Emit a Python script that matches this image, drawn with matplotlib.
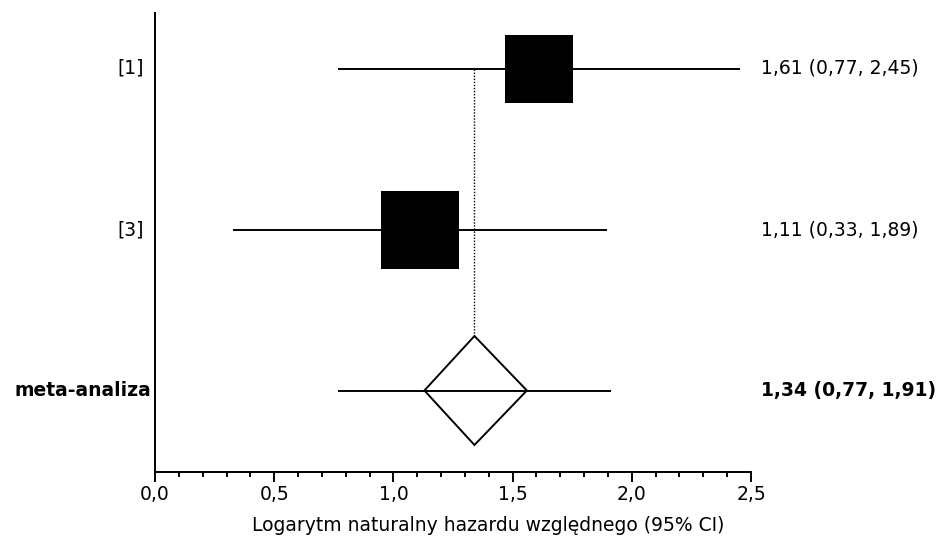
import matplotlib
matplotlib.use("Agg")
import matplotlib.pyplot as plt
from matplotlib.patches import Polygon
from matplotlib.ticker import MultipleLocator, FuncFormatter

# dane badań
etykiety = ["[1]", "[3]"]
efekt = [1.61, 1.11]
ci_dol = [0.77, 0.33]
ci_gora = [2.45, 1.89]
bok_kwadratu = [49.3, 56.2]   # wielkość kwadratu (waga badania), pt
pozycja_y = [4.03, 2.415]

# meta-analiza
meta_etykieta = "meta-analiza"
meta_efekt = 1.34
meta_ci = (0.77, 1.91)
meta_romb = (1.13, 1.56)
meta_y = 0.81
meta_pol_wys = 0.545

fig = plt.figure(figsize=(9.41, 5.37), dpi=100)
ax = fig.add_axes([155 / 941, 65.5 / 537, 596 / 941, 458.5 / 537])
ax.set_xlim(0, 2.5)
ax.set_ylim(0, 4.585)

fs = 13.5
lw = 1.4
for lab, e, lo, hi, s, y in zip(etykiety, efekt, ci_dol, ci_gora, bok_kwadratu, pozycja_y):
    ax.plot([lo, hi], [y, y], color="black", lw=lw, zorder=2)
    ax.plot([e], [y], marker="s", ms=s, color="black", mec="black", mew=0, zorder=3)
    ax.annotate(lab, (0, y), xytext=(-11 * 0.72, 0), textcoords="offset points",
                ha="right", va="center", fontsize=fs, annotation_clip=False)
    ax.annotate(f"{e:.2f} ({lo:.2f}, {hi:.2f})".replace(".", ","), (2.5, y),
                xytext=(10 * 0.72, 0), textcoords="offset points",
                ha="left", va="center", fontsize=fs, annotation_clip=False)

# linia pionowa przez efekt zbiorczy
ax.plot([meta_efekt, meta_efekt], [pozycja_y[0], meta_y + meta_pol_wys],
        color="black", lw=1.0, ls=(0, (1, 1.2)), zorder=1)

romb = Polygon([(meta_romb[0], meta_y), (meta_efekt, meta_y + meta_pol_wys),
                (meta_romb[1], meta_y), (meta_efekt, meta_y - meta_pol_wys)],
               closed=True, facecolor="white", edgecolor="black", lw=lw, zorder=1.5)
ax.add_patch(romb)
ax.plot(list(meta_ci), [meta_y, meta_y], color="black", lw=lw, zorder=2)
ax.annotate(meta_etykieta, (0, meta_y), xytext=(-4 * 0.72, 0), textcoords="offset points",
            ha="right", va="center", fontsize=fs, fontweight="bold", annotation_clip=False)
ax.annotate(f"{meta_efekt:.2f} ({meta_ci[0]:.2f}, {meta_ci[1]:.2f})".replace(".", ","),
            (2.5, meta_y), xytext=(10 * 0.72, 0), textcoords="offset points",
            ha="left", va="center", fontsize=fs, fontweight="bold", annotation_clip=False)

# osie
for s in ["top", "right"]:
    ax.spines[s].set_visible(False)
ax.spines["left"].set_linewidth(lw)
ax.spines["bottom"].set_linewidth(lw)
ax.set_yticks([])
ax.xaxis.set_major_locator(MultipleLocator(0.5))
ax.xaxis.set_minor_locator(MultipleLocator(0.1))
ax.xaxis.set_major_formatter(FuncFormatter(lambda v, p: f"{v:.1f}".replace(".", ",")))
ax.tick_params(axis="x", which="major", length=7, width=lw, labelsize=fs, pad=3)
ax.tick_params(axis="x", which="minor", length=3.6, width=lw)
ax.set_xlabel("Logarytm naturalny hazardu względnego (95% CI)", fontsize=fs, va="center")
ax.xaxis.set_label_coords(0.559, -0.118)

fig.savefig("out.png", dpi=100)
